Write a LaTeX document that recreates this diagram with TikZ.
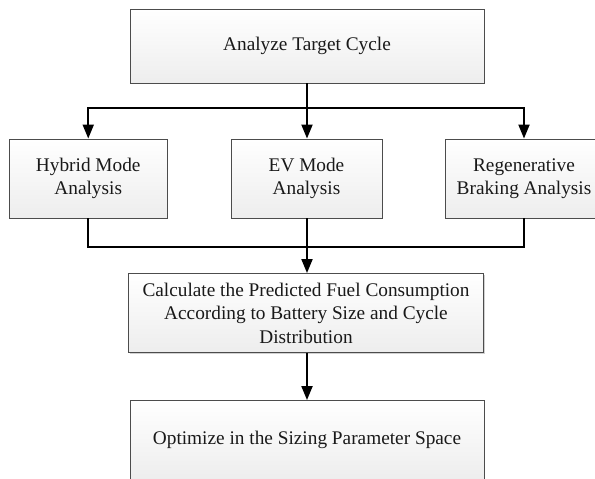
\documentclass[tikz,border=0pt]{standalone}
\usepackage{fontspec}
\setmainfont{Liberation Serif}
\usetikzlibrary{arrows.meta,shadows}
\tikzset{
  box/.style={rectangle, draw=gray!60!black, line width=0.9pt,
    top color=white, bottom color=gray!14,
    drop shadow={shadow xshift=1.3pt, shadow yshift=-1.3pt, fill=gray!45, opacity=0.8},
    align=center, inner sep=0pt, text=black!90,
    font=\fontsize{19.3}{23.5}\selectfont},
  link/.style={line width=2pt, black},
  arr/.style={link, -{Triangle[length=14pt,width=11pt]}}
}
\begin{document}
\begin{tikzpicture}[x=1pt,y=-1pt]
\useasboundingbox (0,0) rectangle (595,479);
\clip (0,0) rectangle (595,479);
\node[box, minimum width=354pt, minimum height=73.5pt] (top) at (307,46.25) {Analyze Target Cycle};
\node[box, minimum width=157.5pt, minimum height=79pt] (h) at (88.25,178.5) {Hybrid Mode\\Analysis};
\node[box, minimum width=151pt, minimum height=79pt] (e) at (306.5,178.5) {EV Mode\\Analysis};
\node[box, minimum width=158pt, minimum height=79pt] (r) at (524,178.5) {Regenerative\\Braking Analysis};
\node[box, minimum width=355pt, minimum height=79pt] (calc) at (306,313) {Calculate the Predicted Fuel Consumption\\According to Battery Size and Cycle\\Distribution};
\node[box, minimum width=354pt, minimum height=79pt] (opt) at (307,440) {Optimize in the Sizing Parameter Space};
\coordinate (split) at (307,108);
\coordinate (merge) at (307,247);
\draw[link] (top.south -| split) -- (split);
\draw[arr] (split) -| (h.north);
\draw[arr] (split) -| (r.north);
\draw[arr] (split) -- (split |- e.north);
\draw[link] (h.south) |- (merge);
\draw[link] (r.south) |- (merge);
\draw[link] (e.south -| merge) -- (merge);
\draw[arr] (merge) -- (merge |- calc.north);
\draw[arr] (calc.south -| opt.north) -- (opt.north);
\end{tikzpicture}
\end{document}
